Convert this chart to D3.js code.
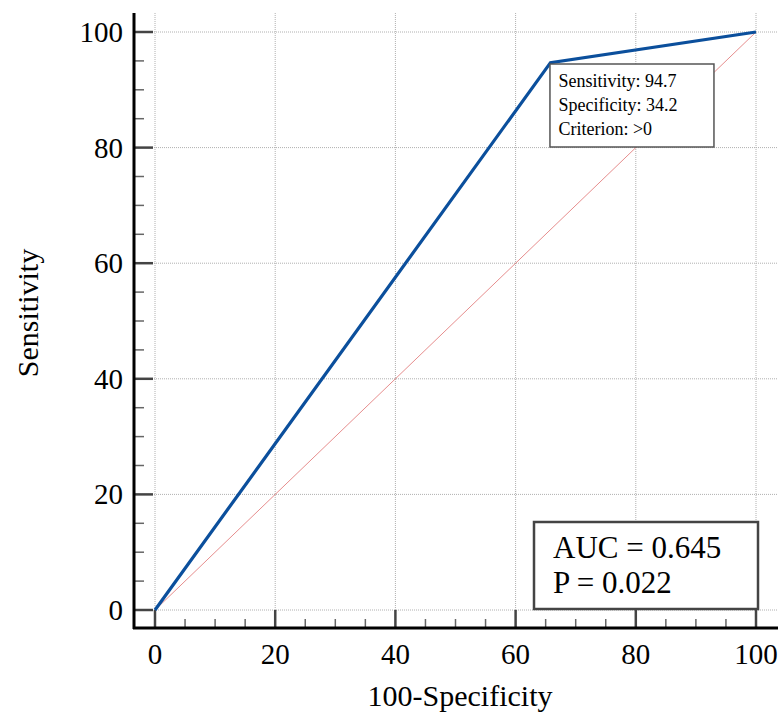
<!DOCTYPE html>
<html>
<head>
<meta charset="utf-8">
<script src="https://cdn.jsdelivr.net/npm/d3@7"></script>
<style>
  body { margin: 0; background: #fff; }
  text { font-family: "Liberation Serif", "Times New Roman", serif; }
</style>
</head>
<body>
<div id="chart"></div>
<script>
let width_chart = 781;
let height_chart = 712;

// ROC points (100-Specificity, Sensitivity)
const fpr = [0, 65.8, 100];
const tpr = [0, 94.7, 100];
const diag = [0, 100];
const majorTicks = [0, 20, 40, 60, 80, 100];
const minorTicks = d3.range(0, 101, 5).filter(v => v % 20 != 0);
const annotLines = ["Sensitivity: 94.7", "Specificity: 34.2", "Criterion: >0"];
const statLines = ["AUC = 0.645", "P = 0.022"];

let svg = d3.select('#chart').append('svg')
    .attr('width', width_chart)
    .attr('height', height_chart);

var x = d3.scaleLinear().domain([0, 100]).range([155, 756]);
var y = d3.scaleLinear().domain([0, 100]).range([610, 32]);

const axisX0 = 134, axisY0 = 628;

// grid
svg.append("g").selectAll("line")
    .data(majorTicks)
    .enter().append("line")
    .attr("x1", d => x(d)).attr("x2", d => x(d))
    .attr("y1", 13).attr("y2", axisY0)
    .attr("stroke", "#b0b0b0").attr("stroke-width", 1)
    .attr("stroke-dasharray", "1,1");
svg.append("g").selectAll("line")
    .data(majorTicks)
    .enter().append("line")
    .attr("x1", axisX0).attr("x2", 778)
    .attr("y1", d => y(d)).attr("y2", d => y(d))
    .attr("stroke", "#b0b0b0").attr("stroke-width", 1)
    .attr("stroke-dasharray", "1,1");

// ticks
svg.append("g").selectAll("line")
    .data(majorTicks)
    .enter().append("line")
    .attr("x1", axisX0).attr("x2", axisX0 + 19)
    .attr("y1", d => y(d)).attr("y2", d => y(d))
    .attr("stroke", "#444").attr("stroke-width", 2.5);
svg.append("g").selectAll("line")
    .data(minorTicks)
    .enter().append("line")
    .attr("x1", axisX0).attr("x2", axisX0 + 10)
    .attr("y1", d => y(d)).attr("y2", d => y(d))
    .attr("stroke", "#666").attr("stroke-width", 1.5);
svg.append("g").selectAll("line")
    .data(majorTicks)
    .enter().append("line")
    .attr("x1", d => x(d)).attr("x2", d => x(d))
    .attr("y1", axisY0).attr("y2", axisY0 - 18)
    .attr("stroke", "#444").attr("stroke-width", 2.5);
svg.append("g").selectAll("line")
    .data(minorTicks)
    .enter().append("line")
    .attr("x1", d => x(d)).attr("x2", d => x(d))
    .attr("y1", axisY0).attr("y2", axisY0 - 9)
    .attr("stroke", "#666").attr("stroke-width", 1.5);

// axis lines
svg.append("line")
    .attr("x1", axisX0).attr("x2", axisX0)
    .attr("y1", 13).attr("y2", axisY0 + 1)
    .attr("stroke", "#000").attr("stroke-width", 3);
svg.append("line")
    .attr("x1", axisX0 - 1).attr("x2", 778)
    .attr("y1", axisY0).attr("y2", axisY0)
    .attr("stroke", "#000").attr("stroke-width", 3);

// tick labels
svg.append("g").selectAll("text")
    .data(majorTicks)
    .enter().append("text")
    .attr("x", 123).attr("y", d => y(d) + 10)
    .attr("text-anchor", "end")
    .style("font-size", "29px")
    .text(d => d);
svg.append("g").selectAll("text")
    .data(majorTicks)
    .enter().append("text")
    .attr("x", d => x(d)).attr("y", 664)
    .attr("text-anchor", "middle")
    .style("font-size", "29px")
    .text(d => d);

// axis titles
svg.append("text")
    .attr("x", 460).attr("y", 706)
    .attr("text-anchor", "middle")
    .style("font-size", "30px")
    .text("100-Specificity");
svg.append("text")
    .attr("transform", "translate(38," + 313 + ") rotate(-90)")
    .attr("text-anchor", "middle")
    .style("font-size", "30px")
    .text("Sensitivity");

// diagonal reference
svg.append("line")
    .attr("x1", x(diag[0])).attr("y1", y(diag[0]))
    .attr("x2", x(diag[1])).attr("y2", y(diag[1]))
    .attr("stroke", "#e07070").attr("stroke-width", 0.8);

// ROC curve
var line = d3.line()
    .x(function(d) { return x(d[0]); })
    .y(function(d) { return y(d[1]); });
svg.append("path")
    .datum(d3.zip(fpr, tpr))
    .attr("d", line)
    .attr("fill", "none")
    .attr("stroke", "#0b4f9c")
    .attr("stroke-width", 3.2)
    .attr("stroke-linejoin", "miter");

// annotation box
var ax = x(fpr[1]);
svg.append("rect")
    .attr("x", ax - 0.5).attr("y", 64)
    .attr("width", 164).attr("height", 83)
    .attr("fill", "#fff").attr("stroke", "#555").attr("stroke-width", 1.5);
svg.append("g").selectAll("text")
    .data(annotLines)
    .enter().append("text")
    .attr("x", ax + 8).attr("y", (d, i) => 87 + i * 24)
    .style("font-size", "18px")
    .text(d => d);

// AUC box
svg.append("rect")
    .attr("x", 534).attr("y", 522)
    .attr("width", 224).attr("height", 87)
    .attr("fill", "#fff").attr("stroke", "#444").attr("stroke-width", 2.5);
svg.append("g").selectAll("text")
    .data(statLines)
    .enter().append("text")
    .attr("x", 553).attr("y", (d, i) => 558 + i * 35)
    .style("font-size", "31px")
    .text(d => d);
</script>
</body>
</html>
